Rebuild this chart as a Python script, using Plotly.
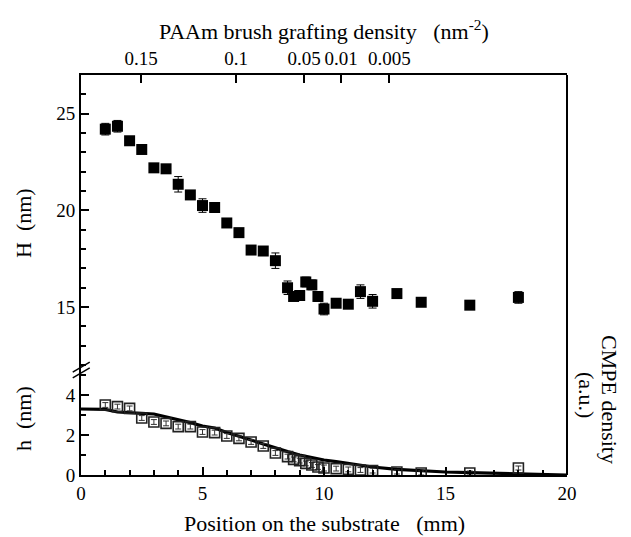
import plotly.graph_objects as go

# ---- data ----
pos_mm = [1, 1.5, 2, 2.5, 3, 3.5, 4, 4.5, 5, 5.5, 6, 6.5, 7, 7.5, 8, 8.5, 8.75, 9,
          9.25, 9.5, 9.75, 10, 10.5, 11, 11.5, 12, 13, 14, 16, 18]
H_nm = [24.2, 24.35, 23.6, 23.15, 22.2, 22.15, 21.35, 20.8, 20.25, 20.15, 19.35, 18.85,
        17.95, 17.9, 17.4, 16.0, 15.55, 15.6, 16.3, 16.15, 15.55, 14.9, 15.2, 15.15,
        15.8, 15.3, 15.7, 15.25, 15.1, 15.5]
H_err = [0.3, 0.3, 0.15, 0.15, 0.1, 0.1, 0.4, 0.15, 0.35, 0.15, 0.2, 0.2, 0.1, 0.1, 0.4,
         0.35, 0.2, 0.2, 0.25, 0.25, 0.25, 0.3, 0.2, 0.2, 0.35, 0.35, 0.1, 0.2, 0.15, 0.3]
h_nm = [3.5, 3.42, 3.33, 2.85, 2.65, 2.58, 2.42, 2.42, 2.15, 2.12, 1.95, 1.83, 1.65, 1.45,
        1.1, 0.92, 0.78, 0.72, 0.58, 0.5, 0.4, 0.35, 0.32, 0.28, 0.25, 0.22, 0.15, 0.1,
        0.1, 0.35]
h_err = [0.12, 0.12, 0.12, 0.12, 0.12, 0.12, 0.12, 0.12, 0.12, 0.12, 0.12, 0.12, 0.12,
         0.12, 0.12, 0.12, 0.12, 0.12, 0.12, 0.12, 0.12, 0.15, 0.12, 0.12, 0.12, 0.12,
         0.1, 0.1, 0.1, 0.1]
cmpe_x = [0, 0.5, 1, 1.5, 2, 2.5, 3, 3.5, 4, 4.5, 5, 5.5, 6, 6.5, 7, 7.5, 8, 8.5, 9, 9.5,
          10, 10.5, 11, 12, 13, 14, 15, 16, 17, 18, 19, 19.5, 20]
cmpe_y = [3.3, 3.3, 3.28, 3.15, 3.1, 3.08, 3.05, 2.92, 2.78, 2.62, 2.45, 2.35, 2.12, 1.95,
          1.75, 1.55, 1.35, 1.17, 1.0, 0.87, 0.75, 0.67, 0.58, 0.4, 0.28, 0.2, 0.15, 0.12,
          0.09, 0.06, 0.03, 0.02, 0.0]
top_tick_pos = [2.47, 6.38, 9.18, 10.7, 12.69]
top_tick_text = ["0.15", "0.1", "0.05", "0.01", "0.005"]

FONT = "Liberation Serif"
fig = go.Figure()

fig.add_trace(go.Scatter(
    x=cmpe_x, y=cmpe_y, mode="lines", line=dict(color="black", width=3.2),
    xaxis="x", yaxis="y", showlegend=False))
fig.add_trace(go.Scatter(
    x=pos_mm, y=h_nm, mode="markers",
    marker=dict(symbol="square-open", size=10, color="#222", line=dict(width=1.6)),
    error_y=dict(type="data", array=h_err, color="#333", thickness=1, width=3),
    xaxis="x", yaxis="y", showlegend=False))
fig.add_trace(go.Scatter(
    x=pos_mm, y=H_nm, mode="markers",
    marker=dict(symbol="square", size=11, color="black"),
    error_y=dict(type="data", array=H_err, color="black", thickness=1, width=4),
    xaxis="x", yaxis="y2", showlegend=False))
fig.add_trace(go.Scatter(x=[None], y=[None], xaxis="x2", yaxis="y2", showlegend=False))

tickfont = dict(family=FONT, size=19, color="black")
common = dict(showgrid=False, zeroline=False, showline=True, linecolor="black",
              linewidth=2, ticks="inside", tickcolor="black", tickwidth=1.5,
              ticklen=8, tickfont=tickfont)
minor = dict(dtick=1, ticks="inside", ticklen=5, tickcolor="black")

fig.update_layout(
    width=631, height=537,
    margin=dict(l=81, r=64, t=75, b=62),
    paper_bgcolor="white", plot_bgcolor="white",
    xaxis=dict(range=[0, 20], tickvals=[0, 5, 10, 15, 20], anchor="y",
               minor=minor, **common),
    xaxis2=dict(range=[0, 20], overlaying="x", side="top", anchor="y2",
                tickvals=top_tick_pos, ticktext=top_tick_text, **common),
    yaxis=dict(domain=[0, 0.265], range=[0, 5.3], tickvals=[0, 2, 4], anchor="x",
               minor=minor, **common),
    yaxis2=dict(domain=[0.265, 1], range=[11.8, 27], tickvals=[15, 20, 25], anchor="x",
                minor=minor, **common),
)

# frame (right side)
fig.add_shape(type="line", xref="paper", yref="paper", x0=1, x1=1, y0=0, y1=1,
              line=dict(color="black", width=2))

# axis break marks
for dy in (0.0, 0.014):
    fig.add_shape(type="line", xref="paper", yref="paper",
                  x0=-0.017, x1=0.018, y0=0.243 + dy, y1=0.268 + dy,
                  line=dict(color="black", width=1.5))

ann = dict(xref="paper", yref="paper", showarrow=False,
           font=dict(family=FONT, size=22, color="black"))
fig.add_annotation(text="PAAm brush grafting density   (nm<sup>-2</sup>)",
                   x=0.5, y=1.0, yshift=45, xanchor="center", yanchor="middle", **ann)
fig.add_annotation(text="Position on the substrate   (mm)", x=0.5, y=0, yshift=-48,
                   xanchor="center", yanchor="middle", **ann)
fig.add_annotation(text="H  (nm)", x=0, xshift=-58, y=0.63, textangle=-90,
                   xanchor="center", yanchor="middle", **ann)
fig.add_annotation(text="h  (nm)", x=0, xshift=-58, y=0.14, textangle=-90,
                   xanchor="center", yanchor="middle", **ann)
fig.add_annotation(text="CMPE density", x=1, xshift=43, y=0.19, textangle=90,
                   xanchor="center", yanchor="middle", **ann)
fig.add_annotation(text="(a.u.)", x=1, xshift=20, y=0.2, textangle=90,
                   xanchor="center", yanchor="middle", **ann)

fig.write_html("out.html", config={"displayModeBar": False},
               post_script="document.body.style.margin='0';document.body.style.overflow='hidden';")
